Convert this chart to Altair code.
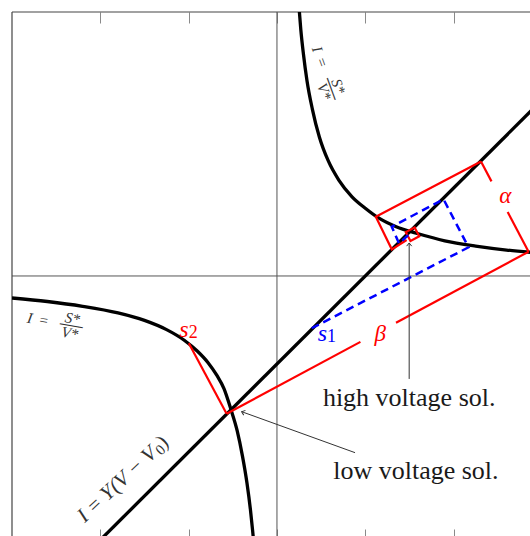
import altair as alt
import pandas as pd

# ---------------- data (data units) ----------------
X_DOMAIN = [-3.0, 2.865]
Y_DOMAIN = [-2.955, 3.0]
TICKS = [-2, -1, 0, 1, 2]

# I = S*/V*  (upper-right branch)
upper_V = [0.25, 0.27, 0.30, 0.34, 0.40, 0.48, 0.58, 0.70, 0.85, 1.00, 1.15, 1.35, 1.60, 1.90, 2.25, 2.60, 2.95]
upper_I = [3.05, 2.80, 2.52, 2.22, 1.90, 1.58, 1.31, 1.09, 0.90, 0.77, 0.66, 0.56, 0.48, 0.40, 0.34, 0.295, 0.262]
# I = S*/V*  (lower-left branch)
lower_V = [-3.0, -2.6, -2.2, -1.8, -1.5, -1.25, -1.05, -0.9, -0.78, -0.68, -0.6, -0.52, -0.45, -0.39, -0.34, -0.30, -0.275, -0.26]
lower_I = [-0.25, -0.29, -0.345, -0.42, -0.505, -0.61, -0.73, -0.855, -0.985, -1.13, -1.28, -1.52, -1.76, -2.05, -2.35, -2.66, -2.90, -3.06]
# I = Y(V - V0)
load_V = [-2.1, 2.95]
load_I = [-3.1, 1.95]

# red construction (segments)
red_seg = ["b1", "b1", "b2", "b2", "a1", "a1", "a2", "a2", "q", "q", "q", "q", "s2", "s2"]
red_V = [-0.57, 0.945, 1.348, 2.849, 2.849, 2.612, 2.429, 2.31, 2.31, 1.119, 1.30, 1.468, -0.998, -0.57]
red_I = [-1.565, -0.749, -0.532, 0.276, 0.276, 0.727, 1.075, 1.30, 1.30, 0.674, 0.303, 0.409, -0.765, -1.565]
# small red square at the high-voltage solution
sq_V = [1.535]
sq_I = [0.475]

# blue dashed construction
blue_V = [0.393, 2.169, 1.886, 1.30, 1.383, 1.508]
blue_I = [-0.594, 0.326, 0.872, 0.56, 0.369, 0.485]

# annotation arrows (tail -> tip)
arrow_seg = ["hi", "hi", "lo", "lo"]
arrow_V = [1.497, 1.497, 0.884, -0.40]
arrow_I = [-1.17, 0.375, -2.008, -1.542]
tip_V = [1.497, -0.40]
tip_I = [0.375, -1.542]
tip_angle = [0, 290]

# labels
sol_text = ["high voltage sol.", "low voltage sol."]
sol_V = [1.497, 1.573]
sol_I = [-1.477, -2.307]

greek_text = ["\u03b2", "\u03b1"]
greek_V = [1.168, 2.585]
greek_I = [-0.665, 0.909]

sub_anchor_V = [-1.0, 0.567]
sub_anchor_I = [-0.688, -0.739]
sub_letter = ["s", "s"]
sub_digit = ["2", "1"]
sub_color = ["#ff0000", "#0000ff"]

frac_V = [0.516, -2.630]
frac_I = [2.417, -0.506]
frac_angle = [70, 10]

yv_V = [-2.200]
yv_I = [-2.784]
yv_angle = [317]

# ---------------- chart ----------------
FONT = "Liberation Serif"
xs = alt.Scale(domain=X_DOMAIN, nice=False, zero=False)
ys = alt.Scale(domain=Y_DOMAIN, nice=False, zero=False)


def X(axis=None):
    return alt.X("V:Q", scale=xs, axis=axis)


def Y(axis=None):
    return alt.Y("I:Q", scale=ys, axis=axis)


tick_style = dict(labels=False, domain=False, grid=False, title=None, values=TICKS,
                  tickColor="#8a8a8a", tickWidth=1)
top_axis = alt.Axis(orient="top", offset=-11, tickSize=11, **tick_style)
left_axis = alt.Axis(orient="left", offset=-11, tickSize=11, **tick_style)
bottom_axis = alt.Axis(orient="bottom", offset=-7, tickSize=7, **tick_style)

AX = "#555555"
v_axis = alt.Chart(pd.DataFrame({"V": [0.0]})).mark_rule(color=AX, strokeWidth=1).encode(x=X(top_axis))
h_axis = alt.Chart(pd.DataFrame({"I": [0.0]})).mark_rule(color=AX, strokeWidth=1).encode(y=Y(left_axis))
frame_l = alt.Chart(pd.DataFrame({"V": [X_DOMAIN[0]]})).mark_rule(color="#444444", strokeWidth=1.2).encode(x=X(bottom_axis))
frame_t = alt.Chart(pd.DataFrame({"I": [Y_DOMAIN[1]]})).mark_rule(color="#444444", strokeWidth=1.2).encode(y=Y())

curves = pd.DataFrame({
    "V": upper_V + lower_V + load_V,
    "I": upper_I + lower_I + load_I,
    "c": ["u"] * len(upper_V) + ["l"] * len(lower_V) + ["y"] * len(load_V),
})
curves["o"] = range(len(curves))
curve_layer = alt.Chart(curves).mark_line(color="black", strokeWidth=3.3, clip=True,
                                          interpolate="monotone").encode(
    x=X(), y=Y(), detail="c:N", order="o:Q")

red = pd.DataFrame({"V": red_V, "I": red_I, "s": red_seg})
red["o"] = range(len(red))
red_layer = alt.Chart(red).mark_line(color="#ff0000", strokeWidth=2.2, clip=True,
                                     strokeJoin="miter").encode(
    x=X(), y=Y(), detail="s:N", order="o:Q")
sq_layer = alt.Chart(pd.DataFrame({"V": sq_V, "I": sq_I})).mark_point(
    shape="square", size=100, angle=62, filled=False, color="#ff0000", strokeWidth=2.2, opacity=1
).encode(x=X(), y=Y())

blue = pd.DataFrame({"V": blue_V, "I": blue_I})
blue["o"] = range(len(blue))
blue_layer = alt.Chart(blue).mark_line(color="#0000ff", strokeWidth=2.5, strokeDash=[8, 5]).encode(
    x=X(), y=Y(), order="o:Q")

arr = pd.DataFrame({"V": arrow_V, "I": arrow_I, "s": arrow_seg})
arr["o"] = range(len(arr))
arrow_layer = alt.Chart(arr).mark_line(color="#333333", strokeWidth=1).encode(
    x=X(), y=Y(), detail="s:N", order="o:Q")
tips = pd.DataFrame({"V": tip_V, "I": tip_I, "a": tip_angle})
tip_layer = alt.Chart(tips).mark_point(
    shape="M-0.8,1L0,0L0.8,1", size=40, filled=False, color="#333333", strokeWidth=1, opacity=1
).encode(x=X(), y=Y(), angle=alt.Angle("a:Q", scale=None))

sol_layer = alt.Chart(pd.DataFrame({"V": sol_V, "I": sol_I, "t": sol_text})).mark_text(
    font=FONT, fontSize=26, align="center", baseline="alphabetic", color="#1a1a1a"
).encode(x=X(), y=Y(), text="t:N")

greek_layer = alt.Chart(pd.DataFrame({"V": greek_V, "I": greek_I, "t": greek_text})).mark_text(
    font=FONT, fontSize=23, fontStyle="italic", align="center", baseline="middle", color="#ff0000"
).encode(x=X(), y=Y(), text="t:N")

sub_df = pd.DataFrame({"V": sub_anchor_V, "I": sub_anchor_I, "l": sub_letter, "d": sub_digit, "c": sub_color})
sub_letter_layer = alt.Chart(sub_df).mark_text(
    font=FONT, fontSize=24, fontStyle="italic", align="right", baseline="alphabetic"
).encode(x=X(), y=Y(), text="l:N", color=alt.Color("c:N", scale=None))
sub_digit_layer = alt.Chart(sub_df).mark_text(
    font=FONT, fontSize=18, align="left", baseline="alphabetic", dy=1
).encode(x=X(), y=Y(), text="d:N", color=alt.Color("c:N", scale=None))

frac_df = pd.DataFrame({"V": frac_V, "I": frac_I, "a": frac_angle})


def frac_part(text, size, dx, dy, italic=True):
    kw = dict(font=FONT, fontSize=size, align="center", baseline="middle", color="#333333",
              dx=dx, dy=dy)
    if italic:
        kw["fontStyle"] = "italic"
    return alt.Chart(frac_df).mark_text(text=text, **kw).encode(
        x=X(), y=Y(), angle=alt.Angle("a:Q", scale=None))


frac_layers = [
    frac_part("I", 15, -15, 0),
    frac_part("=", 15, -1, 0, italic=False),
    frac_part("S*", 15, 27, -7),
    frac_part("\u2014", 23, 27, -1, italic=False),
    frac_part("V*", 15, 27, 8),
]

yv_df = pd.DataFrame({"V": yv_V, "I": yv_I, "a": yv_angle})


def yv_part(text, size, dx, dy, italic=True):
    kw = dict(font=FONT, fontSize=size, align="left", baseline="middle", color="#333333",
              dx=dx, dy=dy)
    if italic:
        kw["fontStyle"] = "italic"
    return alt.Chart(yv_df).mark_text(text=text, **kw).encode(
        x=X(), y=Y(), angle=alt.Angle("a:Q", scale=None))


yv_layers = [
    yv_part("I = Y(V \u2212 V", 21, 0, -3),
    yv_part("0", 15, 101.5, 1, italic=False),
    yv_part(")", 21, 109, -3, italic=False),
]

chart = alt.layer(
    v_axis, h_axis, frame_l, frame_t,
    curve_layer, red_layer, sq_layer, blue_layer,
    arrow_layer, tip_layer,
    sol_layer, greek_layer, sub_letter_layer, sub_digit_layer,
    *frac_layers, *yv_layers,
).properties(
    width=518, height=524,
    padding={"left": 12, "top": 12, "right": 0, "bottom": 0},
    autosize=alt.AutoSizeParams(type="none"),
    background="white",
).configure_view(stroke=None)

chart.save("out.html", embed_options={"renderer": "svg", "actions": False})
